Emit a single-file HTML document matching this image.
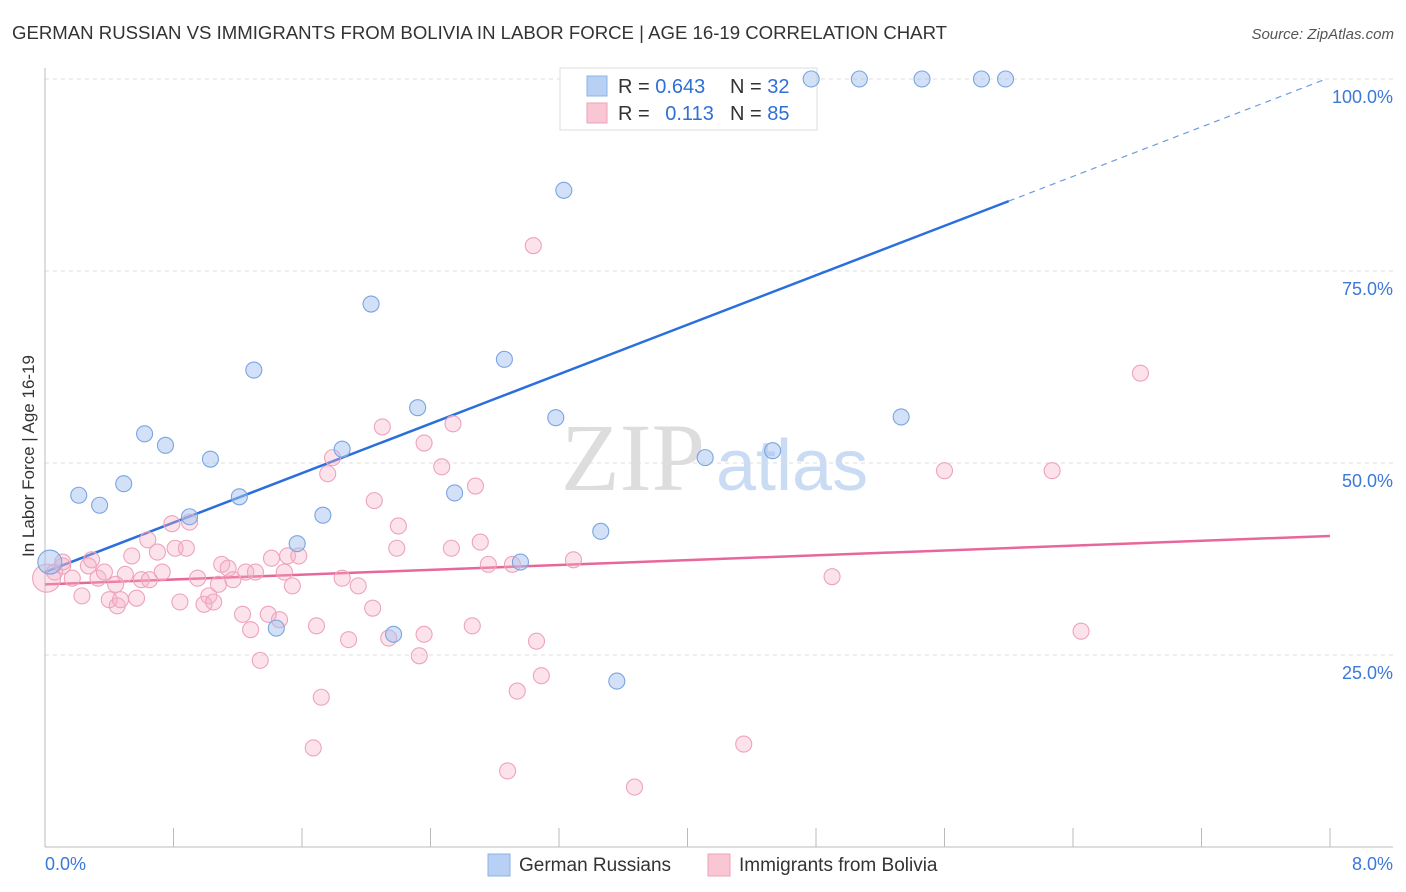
<!DOCTYPE html>
<html><head><meta charset="utf-8"><style>
body{margin:0;background:#fff;font-family:"Liberation Sans",sans-serif;}
svg{display:block}
</style></head><body>
<svg id="chart" width="1406" height="892">
<text x="12" y="39" font-size="18.6" fill="#333">GERMAN RUSSIAN VS IMMIGRANTS FROM BOLIVIA IN LABOR FORCE | AGE 16-19 CORRELATION CHART</text>
<text x="1394" y="39" font-size="15" fill="#555" font-style="italic" text-anchor="end">Source: ZipAtlas.com</text>
<text x="705" y="490" font-size="96" fill="#ddd" text-anchor="end" font-family="Liberation Serif,serif">ZIP</text>
<text x="716" y="490" font-size="72" fill="#c9dcf3">atlas</text>
<g id="grid"></g>
<g id="axes"></g>
<g>
<rect x="560" y="68" width="257" height="62" fill="#fff" stroke="#ddd"/>
<rect x="587" y="76" width="20" height="20" fill="#b7d0f4" stroke="#8fb2e6"/>
<rect x="587" y="103" width="20" height="20" fill="#f9c6d4" stroke="#eca2b9"/>
<text x="618" y="93" font-size="20" fill="#333">R = <tspan fill="#2f6fd6">0.643</tspan></text>
<text x="730" y="93" font-size="20" fill="#333">N = <tspan fill="#2f6fd6">32</tspan></text>
<text x="618" y="120" font-size="20" fill="#333">R = <tspan fill="#2f6fd6" dx="10">0.113</tspan></text>
<text x="730" y="120" font-size="20" fill="#333">N = <tspan fill="#2f6fd6">85</tspan></text>
</g>
<g id="lines"></g>
<g id="points"></g>
<text x="34" y="456" font-size="17" fill="#333" text-anchor="middle" transform="rotate(-90 34 456)">In Labor Force | Age 16-19</text>
<g>
<rect x="488" y="854" width="22" height="22" fill="#b7d0f4" stroke="#8fb2e6"/>
<text x="519" y="871" font-size="19" fill="#333">German Russians</text>
<rect x="708" y="854" width="22" height="22" fill="#f9c6d4" stroke="#eca2b9"/>
<text x="739" y="871" font-size="19" fill="#333">Immigrants from Bolivia</text>
</g>
</svg>
<script>
const blueX=[0.03,0.21,0.34,0.49,0.62,0.75,0.90,1.03,1.21,1.30,1.44,1.57,1.73,1.85,2.03,2.17,2.32,2.55,2.86,2.96,3.18,3.23,3.46,3.56,4.11,4.53,4.77,5.07,5.46,5.83,5.98,5.33];
const blueY=[37.1,45.8,44.5,47.3,53.8,52.3,43.0,50.5,45.6,62.1,28.5,39.5,43.2,51.8,70.7,27.7,57.2,46.1,63.5,37.1,55.9,85.5,41.1,21.6,50.7,51.6,100,100,100,100,100,56.0];
const pinkX=[0.01,0.06,0.11,0.17,0.23,0.29,0.33,0.37,0.40,0.45,0.44,0.50,0.54,0.57,0.60,0.65,0.64,0.70,0.73,0.79,0.81,0.84,0.88,0.90,0.95,0.99,1.02,1.05,1.08,1.10,1.14,1.17,1.23,1.25,1.28,1.31,1.34,1.39,1.41,1.46,1.49,1.51,1.54,1.58,1.67,1.69,1.72,1.85,1.89,1.95,1.79,1.76,2.04,2.05,2.10,2.14,2.19,2.20,2.33,2.36,2.36,2.47,2.53,2.54,2.68,2.71,2.66,2.76,2.91,2.88,2.94,3.04,3.06,3.09,3.29,3.67,4.35,4.90,5.60,6.27,6.45,6.82,0.11,0.27,0.47];
const pinkY=[35.0,35.8,36.6,35.0,32.7,37.4,35.0,35.8,32.2,31.4,34.2,35.5,37.9,32.4,34.8,34.8,40.0,38.4,35.8,42.1,38.9,31.9,38.9,42.3,35.0,31.6,32.7,31.9,34.2,36.8,36.3,34.8,30.3,35.8,28.3,35.8,24.3,30.3,37.6,29.6,35.8,37.9,34.0,37.9,12.9,28.8,19.5,35.0,27.0,34.0,50.7,48.6,31.1,45.1,54.7,27.2,38.9,41.8,24.9,27.7,52.6,49.5,38.9,55.1,47.0,39.7,28.8,36.8,36.8,9.9,20.3,78.3,26.8,22.3,37.4,7.8,13.4,35.2,49.0,49.0,28.1,61.7,37.1,36.6,32.2];
const blueTrend=[35.8,100.2];
const pinkTrend=[34.2,40.5];
const yTicks=[25,50,75,100];
const xTickLabels=["0.0%","8.0%"];
const NS="http://www.w3.org/2000/svg";
const X=v=>45+v/8*1285, Y=v=>847-v*7.68;
function mk(t,a,p){const e=document.createElementNS(NS,t);for(const k in a)e.setAttribute(k,a[k]);p.appendChild(e);return e;}
const grid=document.getElementById('grid'),axes=document.getElementById('axes'),lines=document.getElementById('lines'),pts=document.getElementById('points');
yTicks.forEach(v=>{
 const l=mk('line',{x1:45,x2:1393,y1:Y(v),y2:Y(v),stroke:'#ddd','stroke-dasharray':'4,4'},grid);
 
 
 const t=mk('text',{x:1393,y:Y(v)+24,'font-size':18,fill:'#3b78d8','text-anchor':'end'},axes);
 t.textContent=v.toFixed(1)+'%';
 
 
});
mk('line',{x1:45,x2:45,y1:68,y2:847,stroke:'#bbb'},axes);
mk('line',{x1:45,x2:1393,y1:847,y2:847,stroke:'#bbb'},axes);
for(let i=0;i<=10;i++){const tk=mk('line',{x1:X(i*0.8),x2:X(i*0.8),y1:828,y2:847,stroke:'#bbb'},axes);
 
 }
const t0=mk('text',{x:45,y:870,'font-size':18,fill:'#3b78d8'},axes);t0.textContent=xTickLabels[0];


const t1=mk('text',{x:1393,y:870,'font-size':18,fill:'#3b78d8','text-anchor':'end'},axes);t1.textContent=xTickLabels[1];


const bAt=x=>blueTrend[0]+(blueTrend[1]-blueTrend[0])*x/8;
const bl=mk('line',{x1:X(0),y1:Y(bAt(0)),x2:X(6),y2:Y(bAt(6)),stroke:'#2a6fdb','stroke-width':2.5},lines);


const bd=mk('line',{x1:X(6),y1:Y(bAt(6)),x2:X(7.96),y2:Y(bAt(7.96)),stroke:'#6d9be0','stroke-width':1.2,'stroke-dasharray':'6,5'},lines);


const pl=mk('line',{x1:X(0),y1:Y(pinkTrend[0]),x2:X(8),y2:Y(pinkTrend[1]),stroke:'#e8679a','stroke-width':2.5},lines);


pinkX.forEach((x,i)=>{const c=mk('circle',{cx:X(x),cy:Y(pinkY[i]),r:i==0?14:8,fill:'rgba(247,175,198,0.35)',stroke:'#eea3bb','stroke-width':1.1},pts);
 
 });
blueX.forEach((x,i)=>{const c=mk('circle',{cx:X(x),cy:Y(blueY[i]),r:i==0?12:8,fill:'rgba(165,195,240,0.5)',stroke:'#7aa4e2','stroke-width':1.1},pts);
 
 });
</script>
</body></html>
